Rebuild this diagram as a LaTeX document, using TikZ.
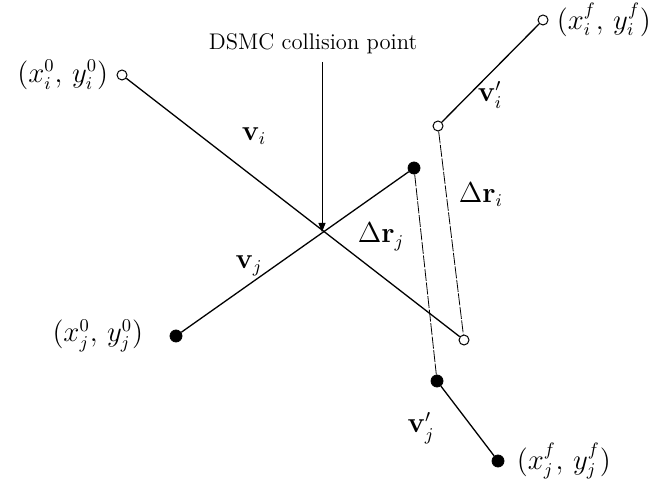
\documentclass[tikz,border=0pt]{standalone}
\usepackage{amsmath,amssymb}
\usetikzlibrary{arrows.meta,positioning}

\begin{document}
\begin{tikzpicture}[
  x=0.5pt,y=-0.5pt,
  every node/.style={font=\fontsize{11.3}{13.5}\selectfont},
  openpt/.style={circle,draw=black,fill=white,line width=0.5pt,minimum size=5pt,inner sep=0pt},
  fullpt/.style={circle,draw=black,fill=black,minimum size=6pt,inner sep=0pt},
  traj/.style={line width=0.65pt},
  sep/.style={line width=0.4pt,dash pattern=on 6pt off 0.8pt},
  label/.style={inner sep=1pt},
  coord/.style={inner sep=1pt,font=\fontsize{13.5}{16}\selectfont}
]
\useasboundingbox (0,0) rectangle (657,485);
% particle i
\node[openpt] (i0) at (122,75) {};
\node[openpt] (i1) at (464,340) {};
\node[openpt] (i2) at (438,126) {};
\node[openpt] (i3) at (543,20) {};
% particle j
\node[fullpt] (j0) at (176,336) {};
\node[fullpt] (j1) at (414,168) {};
\node[fullpt] (j2) at (437,381) {};
\node[fullpt] (j3) at (498,461) {};
\coordinate (c) at (322,232);
\coordinate (ctop) at (322,62);
\draw[traj] (i0) -- (i1);
\draw[traj] (j0) -- (j1);
\draw[traj] (i2) -- (i3);
\draw[traj] (j2) -- (j3);
\draw[sep] (j1) -- (j2);
\draw[sep] (i2) -- (i1);
\draw[line width=0.5pt,-{Triangle[length=4.5pt,width=3.5pt]}] (ctop) -- (c);
% labels
\node[label] (cpt) at (313,44) {DSMC collision point};
\node[coord,left=3pt of i0] {$(x_i^0,\,y_i^0)$};
\node[coord,left=12pt of j0] {$(x_j^0,\,y_j^0)$};
\node[coord,right=3pt of i3] {$(x_i^f,\,y_i^f)$};
\node[coord,right=5pt of j3] {$(x_j^f,\,y_j^f)$};
\node[coord] at (254,136) {$\mathbf{v}_i$};
\node[coord] at (249,266) {$\mathbf{v}_j$};
\node[coord] at (490,95) {$\mathbf{v}_i'$};
\node[coord] at (421,428) {$\mathbf{v}_j'$};
\node[coord] at (381,237) {$\Delta\mathbf{r}_j$};
\node[coord] at (481,195) {$\Delta\mathbf{r}_i$};
\end{tikzpicture}
\end{document}
